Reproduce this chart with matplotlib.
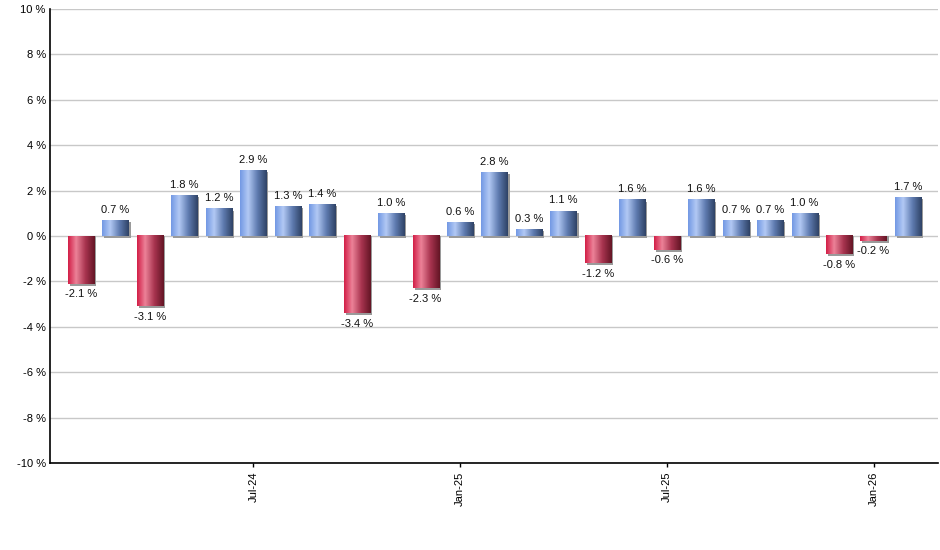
import numpy as np
import matplotlib.pyplot as plt
from matplotlib.colors import LinearSegmentedColormap

plt.rcParams['font.family'] = ['Liberation Sans', 'DejaVu Sans']

# monthly returns, Feb-24 .. Feb-26
months = ['Feb-24', 'Mar-24', 'Apr-24', 'May-24', 'Jun-24', 'Jul-24', 'Aug-24',
          'Sep-24', 'Oct-24', 'Nov-24', 'Dec-24', 'Jan-25', 'Feb-25', 'Mar-25',
          'Apr-25', 'May-25', 'Jun-25', 'Jul-25', 'Aug-25', 'Sep-25', 'Oct-25',
          'Nov-25', 'Dec-25', 'Jan-26', 'Feb-26']
returns = [-2.1, 0.7, -3.1, 1.8, 1.2, 2.9, 1.3, 1.4, -3.4, 1.0, -2.3, 0.6, 2.8,
           0.3, 1.1, -1.2, 1.6, -0.6, 1.6, 0.7, 0.7, 1.0, -0.8, -0.2, 1.7]
tick_months = ['Jul-24', 'Jan-25', 'Jul-25', 'Jan-26']
y_ticks = [-10, -8, -6, -4, -2, 0, 2, 4, 6, 8, 10]

blue_cm = LinearSegmentedColormap.from_list(
    'blue', [(0, '#7399e4'), (0.3, '#b2c9f4'), (0.65, '#5f7bb0'), (1, '#2f4366')])
red_cm = LinearSegmentedColormap.from_list(
    'red', [(0, '#d21f47'), (0.3, '#ec8298'), (0.65, '#a8344f'), (1, '#641525')])

fig = plt.figure(figsize=(9.4, 5.5), dpi=100)
ax = fig.add_axes([50 / 940, 87 / 550, 888 / 940, 454 / 550])

x = np.arange(len(returns))
width = 0.76
xlim = (-0.9, len(returns) - 0.13)
ylim = (-10, 10)

# px -> data units for the little drop shadow
ax_w_px = 888
ax_h_px = 454
dx = 2 * (xlim[1] - xlim[0]) / ax_w_px
dy = 2 * (ylim[1] - ylim[0]) / ax_h_px

grad = np.linspace(0, 1, 64).reshape(1, -1)
for xi, v in zip(x, returns):
    x0 = xi - width / 2
    x1 = xi + width / 2
    # shadow
    if v >= 0:
        ax.bar(xi + dx, v, width=width, bottom=-dy, color='#9a9a9a', zorder=2)
    else:
        ax.bar(xi + dx, v, width=width, bottom=0, color='#9a9a9a', zorder=2)
        ax.bar(xi + dx, -dy, width=width, bottom=v, color='#9a9a9a', zorder=2)
    cm = blue_cm if v >= 0 else red_cm
    ax.imshow(grad, cmap=cm, aspect='auto', interpolation='bilinear',
              extent=[x0, x1, 0, v], zorder=3)
    if v >= 0:
        ax.annotate(f'{v:.1f} %', (xi, v), xytext=(0, 4), textcoords='offset points',
                    ha='center', va='bottom', fontsize=8, color='#111111', zorder=4)
    else:
        ax.annotate(f'{v:.1f} %', (xi, v), xytext=(0, -4), textcoords='offset points',
                    ha='center', va='top', fontsize=8, color='#111111', zorder=4)

ax.set_xlim(*xlim)
ax.set_ylim(*ylim)

ax.set_yticks(y_ticks)
ax.set_yticklabels([f'{t} %' for t in y_ticks], fontsize=8)
ax.tick_params(axis='y', length=0, pad=3)
ax.set_xticks([months.index(m) for m in tick_months])
ax.set_xticklabels(tick_months, rotation=90, fontsize=8)
ax.tick_params(axis='x', length=3, width=1, pad=3)

ax.grid(axis='y', color='#c8c8c8', linewidth=1)
ax.set_axisbelow(True)
for s in ['top', 'right']:
    ax.spines[s].set_visible(False)
ax.spines['left'].set_linewidth(1.2)
ax.spines['bottom'].set_linewidth(1.2)

fig.savefig('out.png', dpi=100)
